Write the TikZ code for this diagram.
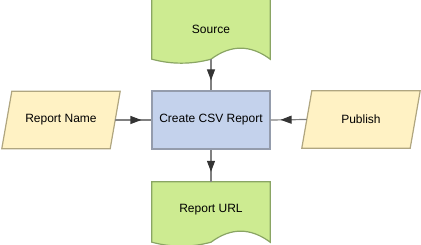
\documentclass[tikz,border=0pt]{standalone}
\usepackage{fontspec}
\setmainfont{Liberation Sans}
\usetikzlibrary{
  arrows.meta,
  positioning,
  calc,
  decorations.markings
}
\definecolor{DocFill}{RGB}{205,235,145}
\definecolor{DocLine}{RGB}{138,165,100}
\definecolor{IOFill}{RGB}{255,242,196}
\definecolor{IOLine}{RGB}{176,166,128}
\definecolor{TaskFill}{RGB}{196,210,236}
\definecolor{TaskLine}{RGB}{148,156,172}
\definecolor{FlowGray}{RGB}{128,128,128}
\definecolor{TipGray}{RGB}{52,52,52}
\tikzset{
  shapebox/.style={
    draw=none,
    minimum width=118pt,
    minimum height=60pt,
    inner sep=0pt,
    font=\fontsize{12}{14}\selectfont
  },
  docshape/.style={draw=DocLine,fill=DocFill,line width=1.2pt},
  ioshape/.style={draw=IOLine,fill=IOFill,line width=1.2pt},
  taskbox/.style={
    draw=TaskLine,
    fill=TaskFill,
    line width=1.2pt,
    minimum width=118pt,
    minimum height=58pt,
    inner sep=0pt,
    font=\fontsize{12}{14}\selectfont
  },
  flow/.style={
    draw=FlowGray,
    line width=1.2pt,
    postaction=decorate,
    decoration={markings,
      mark=at position -10pt with {\arrow{Triangle[length=11pt,width=8pt,color=TipGray]}}}
  }
}
\begin{document}
\begin{tikzpicture}[x=1pt,y=-1pt]
  \useasboundingbox (0,0) rectangle (421,245);

  \node[taskbox] (csv) at (211,120) {Create CSV Report};
  \node[shapebox] (src) at (211,29) {};
  \node[shapebox] (url) at (211,212) {};
  \node[shapebox, minimum height=57pt] (name) at (61,120) {};
  \node[shapebox, minimum height=57pt] (pub) at (361,119.5) {};

  % wavy document shapes
  \foreach \d in {src,url}{
    \draw[docshape] (\d.north west) -- (\d.north east) -- (\d.south east)
      .. controls ($(\d.south east)+(-19.7,-14.7)$) and ($(\d.south)+(19.7,-14.7)$) .. (\d.south)
      .. controls ($(\d.south)+(-19.7,5.3)$) and ($(\d.south west)+(19.7,5.3)$) .. (\d.south west)
      -- cycle;
  }
  % slanted input shapes
  \foreach \p in {name,pub}{
    \draw[ioshape] ($(\p.north west)+(10,0)$) -- (\p.north east)
      -- ($(\p.south east)+(-10,0)$) -- (\p.south west) -- cycle;
  }
  \node[shapebox] at (src) {Source};
  \node[shapebox] at ($(url)+(0,-2)$) {Report URL};
  \node[shapebox] at (name) {Report Name};
  \node[shapebox] at (pub) {Publish};

  \coordinate (name out) at ($(name.east)+(-5,0)$);
  \coordinate (pub out) at ($(pub.west)+(5,0)$);

  \draw[flow] (src.south) -- (csv.north);
  \draw[flow] (csv.south) -- (url.north);
  \draw[flow] (name out) -- (csv.west);
  \draw[flow] (pub out) -- (csv.east);
\end{tikzpicture}
\end{document}
